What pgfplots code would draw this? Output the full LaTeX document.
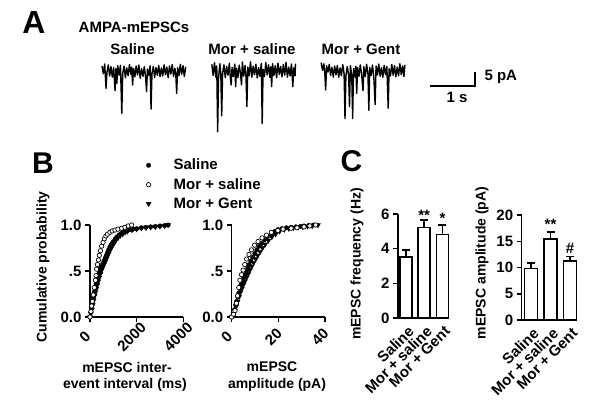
\documentclass[border=0pt]{standalone}
\usepackage{fontspec}
\setmainfont{Liberation Sans}
\usepackage{pgfplots}
\pgfplotsset{compat=1.18}
\newcommand{\fs}{\fontsize{15}{17}\selectfont\bfseries}
\newcommand{\fl}{\fontsize{14}{16}\selectfont\bfseries}

\pgfplotsset{
  prism/.style={
    scale only axis, anchor=origin,
    axis x line*=bottom, axis y line*=left,
    axis line style={line width=1.5pt},
    tick align=outside, major tick length=5pt,
    tick style={line width=1.5pt, black},
    ticklabel style={font=\fs},
    clip=false,
  },
  cumx/.style={xticklabel style={xshift=-5pt, yshift=-15pt, rotate=45, anchor=center}},
  barx/.style={xtick style={draw=none},
    xticklabel style={xshift=1pt, yshift=3pt, rotate=45, anchor=north east}},
  trace/.style={black, line width=1.4pt, line join=round},
}

\begin{document}
\begin{tikzpicture}
\path[use as bounding box] (0pt,0pt) rectangle (600pt,413pt);

% ---------- A: traces ----------
\node[font=\fontsize{32}{32}\selectfont\bfseries] at (34pt,391pt) {A};
\node[font=\fs] at (134pt,386pt) {AMPA-mEPSCs};
\node[font=\fs] at (132.5pt,364pt) {Saline};
\node[font=\fs] at (252pt,364pt) {Mor + saline};
\node[font=\fs] at (361pt,364pt) {Mor + Gent};
\node[font=\fs, anchor=west] at (481pt,336pt) {5 pA};
\node[font=\fs] at (457pt,316pt) {1 s};

\begin{axis}[scale only axis, anchor=origin, at={(102pt,342pt)},
  width=378pt, height=75.6pt, xmin=0, xmax=8.4, ymin=-23, ymax=4,
  hide axis, clip=false]
\addplot[trace] table {
0.00 1.8
0.03 -1.0
0.06 2.5
0.09 -6.2
0.11 -0.6
0.14 2.2
0.17 -1.8
0.20 1.6
0.23 -2.2
0.26 1.2
0.29 -7.0
0.31 0.8
0.33 -4.4
0.35 1.9
0.38 -1.5
0.41 2.0
0.44 -15.1
0.46 -0.9
0.49 1.7
0.52 -2.4
0.55 1.1
0.58 -1.7
0.61 2.3
0.64 -1.2
0.66 1.4
0.68 -5.0
0.70 0.9
0.73 -2.1
0.76 1.8
0.79 -1.4
0.82 2.1
0.85 -2.6
0.88 0.8
0.91 -1.9
0.94 1.5
0.97 -2.2
0.99 -7.4
1.01 0.7
1.04 -1.6
1.07 1.9
1.09 -13.6
1.11 -1.0
1.14 1.6
1.17 -2.3
1.20 1.2
1.23 -1.5
1.26 2.0
1.29 -2.0
1.32 1.1
1.35 -1.8
1.38 2.2
1.41 -1.3
1.44 1.4
1.47 -2.4
1.50 1.8
1.53 -1.1
1.56 2.3
1.59 -1.9
1.62 1.0
1.64 -1.4
1.66 -8.0
1.68 1.2
1.71 -1.7
1.74 2.4
1.77 -1.2
1.80 1.9
1.83 -2.0
1.86 1.5
};
\addplot[trace] table {
2.44 2.4
2.47 -1.6
2.50 3.0
2.53 -2.2
2.55 1.8
2.57 -21.7
2.59 -2.5
2.62 2.6
2.64 -1.0
2.66 -16.0
2.68 -0.8
2.71 2.2
2.74 -2.4
2.77 1.6
2.80 -1.5
2.83 2.8
2.85 -1.9
2.87 -5.0
2.89 1.3
2.92 -2.0
2.95 2.5
2.97 -5.6
2.99 1.0
3.02 -2.3
3.05 2.1
3.08 -1.2
3.10 -5.0
3.12 3.2
3.15 -1.8
3.18 2.0
3.20 -2.1
3.22 -12.7
3.24 1.4
3.27 -1.7
3.30 3.3
3.33 -2.2
3.36 1.7
3.39 -1.3
3.42 2.4
3.45 -2.5
3.48 1.2
3.51 -1.9
3.54 2.7
3.56 -18.7
3.58 0.6
3.61 -2.0
3.64 3.0
3.67 -1.4
3.70 2.2
3.73 -2.3
3.75 1.5
3.77 -5.6
3.79 2.6
3.82 -1.6
3.85 1.9
3.88 -2.4
3.91 2.8
3.94 -1.2
3.97 1.6
4.00 -2.1
4.03 2.3
4.06 -1.5
4.09 3.1
4.12 -2.2
4.15 1.4
4.18 -1.8
4.21 2.5
4.24 -5.6
4.26 1.1
4.29 -1.7
4.30 2.6
};
\addplot[trace] table {
4.87 3.0
4.90 0.2
4.93 2.6
4.95 -0.5
4.97 -6.8
4.99 1.9
5.02 -0.4
5.05 2.4
5.08 -1.6
5.11 1.3
5.14 -2.2
5.17 1.8
5.20 -1.4
5.23 2.0
5.26 -2.3
5.29 1.1
5.32 -1.7
5.35 2.3
5.38 -1.0
5.40 -17.0
5.42 -1.8
5.45 1.6
5.48 -1.2
5.50 -12.7
5.52 1.9
5.55 -1.5
5.57 -17.0
5.59 0.9
5.62 -2.1
5.64 1.7
5.66 -8.0
5.68 1.2
5.71 -1.9
5.74 2.2
5.77 -1.3
5.80 -7.0
5.82 1.5
5.85 -2.0
5.88 2.4
5.91 -1.1
5.93 -14.0
5.95 1.3
5.98 -1.6
6.01 2.1
6.04 -2.2
6.07 -12.0
6.09 1.8
6.12 -1.4
6.15 2.5
6.18 -1.9
6.21 1.2
6.24 -2.3
6.27 2.0
6.30 -1.2
6.33 1.6
6.36 -13.3
6.38 0.8
6.41 -1.8
6.44 2.3
6.47 -1.5
6.50 1.9
6.53 -2.1
6.56 1.4
6.59 -1.7
6.62 2.6
6.65 -1.3
6.68 1.8
6.71 -2.0
6.73 2.2
};
% scale bar: 1 s, 5 pA
\addplot[black, line width=1.3pt] coordinates {(7.29,-5.36) (8.29,-5.36) (8.29,-0.36)};
\end{axis}

% ---------- B: cumulative probability ----------
\node[font=\fontsize{30}{30}\selectfont\bfseries] at (43pt,250pt) {B};
\node[font=\fl, rotate=90] at (43pt,146pt) {Cumulative probability};
\node[font=\fl] at (127pt,46pt) {mEPSC inter-};
\node[font=\fl] at (125pt,28pt) {event interval (ms)};
\node[font=\fl] at (272pt,46pt) {mEPSC};
\node[font=\fl] at (277pt,28pt) {amplitude (pA)};

\begin{axis}[prism, cumx, at={(90pt,96pt)}, width=93.3pt, height=92pt,
  xmin=0, xmax=4000, ymin=0, ymax=1,
  xtick={0,2000,4000}, xticklabels={0,2000,4000},
  ytick={0,0.5,1}, yticklabels={0.0,.5,1.0},
  legend style={at={(axis description cs:0.6,1.74)}, anchor=north west,
    draw=none, fill=none, font=\fs, inner sep=0pt, row sep=3pt,
    nodes={inner sep=2pt}},
  legend image code/.code={\path[draw=none,fill=none] (0pt,0pt) -- (23pt,0pt); \draw[#1] plot coordinates {(0pt,0pt)};},
  legend cell align=left]
\addlegendimage{only marks, mark=*, mark size=2.2pt, black}
\addlegendentry{Saline}
\addlegendimage{only marks, mark=*, mark size=2.2pt, mark options={fill=white, draw=black, line width=0.7pt}}
\addlegendentry{Mor + saline}
\addlegendimage{only marks, mark=triangle*, mark size=2.8pt, black, mark options={rotate=180}}
\addlegendentry{Mor + Gent}
\addplot[forget plot, only marks, mark=*, mark size=2.2pt, black] coordinates {
(0,0) (30,0.05) (60,0.10) (100,0.16) (140,0.21) (180,0.27) (220,0.32) (260,0.36)
(300,0.40) (340,0.44) (380,0.47) (420,0.50) (460,0.53) (500,0.55) (550,0.58)
(600,0.61) (650,0.64) (700,0.67) (750,0.70) (800,0.73) (850,0.76) (900,0.78)
(950,0.80) (1000,0.82) (1080,0.85) (1160,0.87) (1240,0.89) (1320,0.905) (1400,0.92)
(1500,0.93) (1600,0.94) (1700,0.95) (1850,0.955) (2000,0.96) (2200,0.97) (2400,0.975)
(2600,0.98) (2800,0.985) (3000,0.99) (3200,0.995) (3350,1.0)};
\addplot[forget plot, only marks, mark=triangle*, mark size=2.8pt, black, mark options={rotate=180}] coordinates {
(0,0) (40,0.04) (80,0.08) (120,0.13) (160,0.18) (200,0.23) (240,0.27) (280,0.31)
(320,0.35) (360,0.39) (400,0.43) (450,0.47) (500,0.51) (550,0.54) (600,0.57)
(650,0.60) (700,0.63) (750,0.66) (800,0.69) (850,0.72) (900,0.75) (950,0.77)
(1000,0.79) (1050,0.81) (1100,0.83) (1200,0.86) (1300,0.885) (1400,0.90) (1500,0.92)
(1600,0.93) (1800,0.945) (2000,0.955) (2200,0.965) (2400,0.97) (2600,0.975)
(2800,0.98) (3000,0.985) (3200,0.99) (3350,1.0)};
\addplot[forget plot, only marks, mark=*, mark size=2.2pt, mark options={fill=white, draw=black, line width=0.7pt}] coordinates {
(0,0) (40,0.06) (70,0.12) (100,0.17) (140,0.24) (185,0.32) (230,0.40) (260,0.45)
(285,0.52) (320,0.57) (360,0.62) (400,0.67) (450,0.72) (500,0.77) (560,0.81)
(615,0.85) (680,0.88) (750,0.90) (850,0.92) (950,0.935) (1070,0.945) (1200,0.955)
(1357,0.965) (1500,0.975) (1640,0.99) (1785,1.0)};
\end{axis}

\begin{axis}[prism, cumx, at={(231.7pt,96pt)}, width=93.3pt, height=92pt,
  xmin=0, xmax=40, ymin=0, ymax=1,
  xtick={0,20,40}, xticklabels={0,20,40},
  ytick={0,0.5,1}, yticklabels={0.0,.5,1.0}]
\addplot[only marks, mark=*, mark size=2.2pt, black] coordinates {
(0,0) (0.7,0.02) (1.2,0.08) (1.7,0.13) (2.1,0.17) (2.6,0.22) (3.0,0.26) (3.5,0.31)
(4.0,0.35) (4.6,0.39) (5.2,0.43) (5.7,0.46) (6.3,0.50) (6.9,0.53) (7.5,0.57)
(8.2,0.61) (9.0,0.65) (9.9,0.69) (10.8,0.73) (11.8,0.77) (12.8,0.80) (14.0,0.84)
(15.3,0.87) (17.0,0.90) (18.5,0.93) (19.8,0.95) (21.5,0.96) (23.5,0.97) (25.5,0.975)
(27.5,0.98) (29.5,0.985) (31,0.99) (33,0.995) (35,1.0)};
\addplot[only marks, mark=triangle*, mark size=2.8pt, black, mark options={rotate=180}] coordinates {
(0,0) (0.8,0.03) (1.4,0.07) (2.0,0.12) (2.6,0.17) (3.2,0.22) (3.8,0.27) (4.4,0.31)
(5.0,0.35) (5.7,0.39) (6.4,0.43) (7.1,0.47) (7.8,0.51) (8.6,0.55) (9.4,0.59)
(10.3,0.63) (11.2,0.67) (12.2,0.71) (13.2,0.75) (14.4,0.79) (15.7,0.83) (17.2,0.87)
(18.8,0.90) (20.5,0.93) (22.5,0.95) (24.5,0.96) (26.5,0.97) (28.5,0.975) (30.5,0.98)
(32.5,0.985) (34.5,0.99) (37,1.0)};
\addplot[only marks, mark=*, mark size=2.2pt, mark options={fill=white, draw=black, line width=0.7pt}] coordinates {
(0,0) (0.8,0.03) (1.4,0.07) (2.0,0.15) (2.5,0.23) (3.0,0.32) (3.5,0.40) (4.2,0.46)
(4.9,0.51) (5.6,0.57) (6.4,0.63) (7.4,0.68) (8.5,0.73) (9.8,0.78) (11.3,0.82)
(13,0.86) (14.9,0.89) (17,0.92) (19.8,0.94) (22,0.955) (25.5,0.965) (28,0.97)
(31,0.98) (33.5,0.99) (36,1.0)};
\end{axis}

% ---------- C: bar charts ----------
\node[font=\fontsize{30}{30}\selectfont\bfseries] at (351.5pt,252pt) {C};
\node[font=\fl, rotate=90] at (357pt,149pt) {mEPSC frequency (Hz)};
\node[font=\fl, rotate=90] at (482pt,150pt) {mEPSC amplitude (pA)};

\begin{axis}[prism, barx, at={(406pt,95pt)}, width=50.3pt, height=104pt,
  xmin=-0.44, xmax=2.32, ymin=0, ymax=6,
  xtick={0,1,2}, xticklabels={Saline,Mor + saline,Mor + Gent},
  ytick={0,2,4,6}, yticklabels={0,2,4,6}]
\addplot[ybar, bar width=12pt, fill=white, draw=black, line width=1.5pt,
  error bars/.cd, y dir=plus, y explicit,
  error bar style={line width=1.5pt},
  error mark options={rotate=90, mark size=4pt, line width=1.5pt}]
  coordinates {(0,3.52) +- (0,0.40) (1,5.21) +- (0,0.44) (2,4.83) +- (0,0.54)};
\node[font=\fs] at (axis cs:1,5.94) {**};
\node[font=\fs] at (axis cs:2,5.77) {*};
\end{axis}

\begin{axis}[prism, barx, at={(531pt,93pt)}, width=55pt, height=105pt,
  xmin=-0.477, xmax=2.34, ymin=0, ymax=20,
  xtick={0,1,2}, xticklabels={Saline,Mor + saline,Mor + Gent},
  ytick={0,5,10,15,20}, yticklabels={0,5,10,15,20}]
\addplot[ybar, bar width=13pt, fill=white, draw=black, line width=1.5pt,
  error bars/.cd, y dir=plus, y explicit,
  error bar style={line width=1.5pt},
  error mark options={rotate=90, mark size=4pt, line width=1.5pt}]
  coordinates {(0,9.8) +- (0,1.1) (1,15.4) +- (0,1.4) (2,11.2) +- (0,0.9)};
\node[font=\fs] at (axis cs:1,18.3) {**};
\node[font=\fs] at (axis cs:2,13.7) {\#};
\end{axis}
\end{tikzpicture}
\end{document}
